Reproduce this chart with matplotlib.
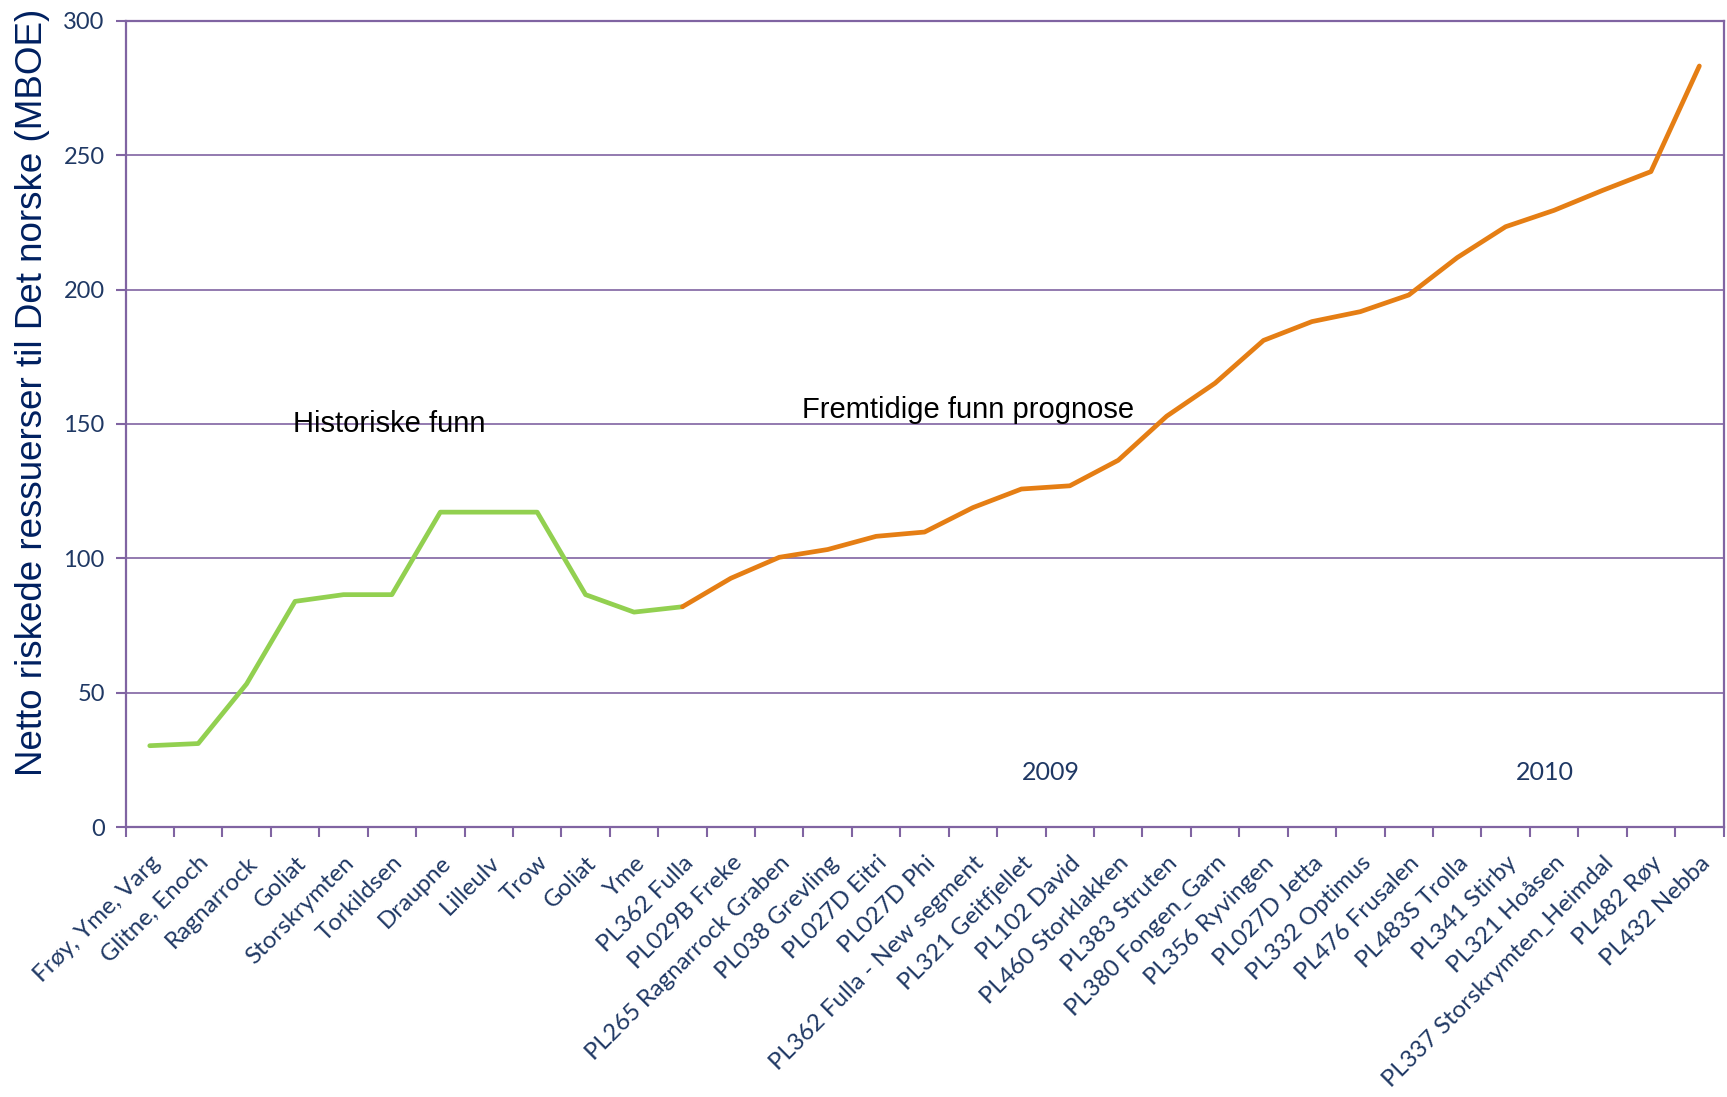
import matplotlib
matplotlib.use("Agg")
import matplotlib.pyplot as plt
import numpy as np

# Funn, i rekkefølge langs x-aksen
funn = [
    "Frøy, Yme, Varg", "Glitne, Enoch", "Ragnarrock", "Goliat", "Storskrymten",
    "Torkildsen", "Draupne", "Lilleulv", "Trow", "Goliat", "Yme", "PL362 Fulla",
    "PL029B Freke", "PL265 Ragnarrock Graben", "PL038 Grevling", "PL027D Eitri",
    "PL027D Phi", "PL362 Fulla - New segment", "PL321 Geitfjellet", "PL102 David",
    "PL460 Storklakken", "PL383 Struten", "PL380 Fongen_Garn", "PL356 Ryvingen",
    "PL027D Jetta", "PL332 Optimus", "PL476 Frusalen", "PL483S Trolla",
    "PL341 Stirby", "PL321 Hoåsen", "PL337 Storskrymten_Heimdal", "PL482 Røy",
    "PL432 Nebba",
]

# Akkumulerte netto riskede ressurser (MBOE)
historiske = [30.3, 31.1, 53.3, 84.0, 86.5, 86.5, 117.2, 117.2, 117.2, 86.5, 80.0, 82.0]
prognose = [82.0, 92.6, 100.4, 103.3, 108.2, 109.8, 118.9, 125.8, 127.0, 136.5,
            152.9, 165.2, 181.1, 188.1, 191.8, 198.0, 211.9, 223.4, 229.5,
            236.9, 243.9, 283.2]

y_ticks = [0, 50, 100, 150, 200, 250, 300]

PURPLE = "#8064A2"
NAVY = "#1F3864"
GREEN = "#92D050"
ORANGE = "#E57E14"
TICK_FONT = ["Lato", "DejaVu Sans"]

fig = plt.figure(figsize=(17.27, 10.97), dpi=100)
ax = fig.add_axes([0.0727, 0.246, 0.9253, 0.735])

x_hist = np.arange(len(historiske))
x_prog = np.arange(len(historiske) - 1, len(historiske) - 1 + len(prognose))

ax.plot(x_hist, historiske, color=GREEN, lw=3.4, solid_capstyle="round", zorder=3)
ax.plot(x_prog, prognose, color=ORANGE, lw=3.4, solid_capstyle="round", zorder=3)

ax.set_xlim(-0.5, len(funn) - 0.5)
ax.set_ylim(0, 300)

ax.set_yticks(y_ticks)
ax.set_yticklabels([str(v) for v in y_ticks], fontsize=17, color=NAVY,
                   family=TICK_FONT)
ax.yaxis.grid(True, color=PURPLE, lw=1.2)
ax.set_axisbelow(True)

ax.set_xticks(np.arange(len(funn)))
ax.set_xticklabels(funn, rotation=45, ha="right", va="top",
                   rotation_mode="anchor", fontsize=17.3, color=NAVY,
                   family=TICK_FONT)
ax.set_xticks(np.arange(len(funn) + 1) - 0.5, minor=True)
ax.tick_params(axis="x", which="major", length=0, pad=18)
ax.tick_params(axis="x", which="minor", length=7, width=1.5, color=PURPLE,
               direction="out")
ax.tick_params(axis="y", length=7, width=1.5, color=PURPLE, pad=8)

for side in ax.spines.values():
    side.set_color(PURPLE)
    side.set_linewidth(1.6)

ax.text(4.95, 150, "Historiske funn", fontsize=21, ha="center", va="center",
        family="Liberation Sans")
ax.text(16.9, 155.3, "Fremtidige funn prognose", fontsize=21, ha="center",
        va="center", family="Liberation Sans")
ax.text(18.6, 20.5, "2009", fontsize=18, ha="center", va="center", color=NAVY,
        family=TICK_FONT)
ax.text(28.8, 20.5, "2010", fontsize=18, ha="center", va="center", color=NAVY,
        family=TICK_FONT)

fig.text(0.019, 0.642, "Netto riskede ressuerser til Det norske (MBOE)",
         rotation=90, ha="center", va="center", fontsize=26.5, color="#002060",
         family=["Liberation Sans", "DejaVu Sans"])

fig.savefig("out.png", dpi=100)
